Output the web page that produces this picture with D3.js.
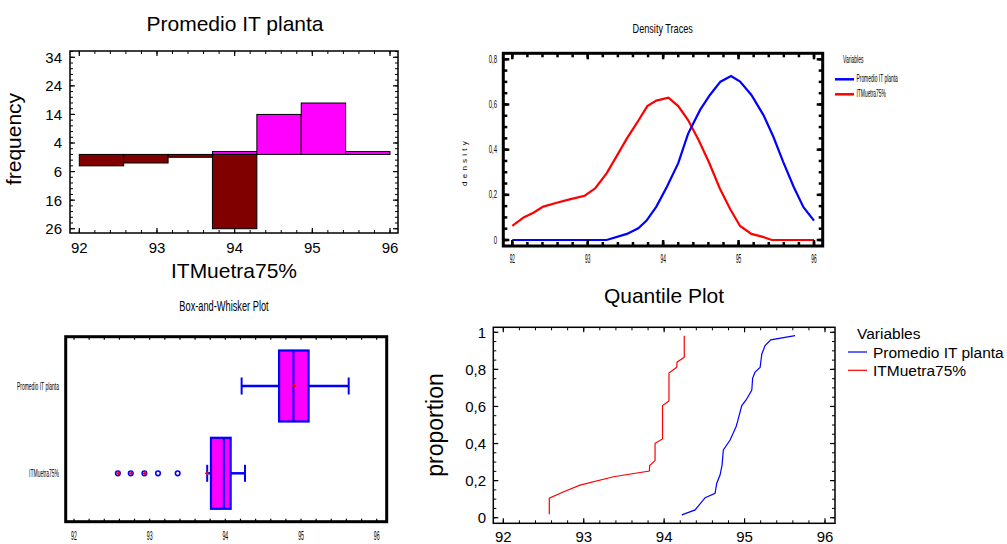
<!DOCTYPE html>
<html>
<head>
<meta charset="utf-8">
<script src="https://cdn.jsdelivr.net/npm/d3@7"></script>
<style>
  body { margin: 0; background: #fff; }
  text { font-family: Arial, "Liberation Sans", sans-serif; fill: #000; }
</style>
</head>
<body>
<svg id="chart" width="1007" height="544"></svg>
<script>
// ---- data ----
var varNames = ['Promedio IT planta', 'ITMuetra75%'];

// histogram (Promedio up, ITMuetra75% down)
var histEdges = [92, 92.571, 93.143, 93.714, 94.286, 94.857, 95.429, 96];
var histPromedio = [0, 0, 0, 1, 14, 18, 1];
var histItm = [4, 3, 1, 26, 0, 0, 0];
var histTicks = [34, 24, 14, 4, -6, -16, -26];

// density traces
var densPromX = [92, 93.25, 93.52, 93.67, 93.78, 93.91, 94.05, 94.2, 94.33, 94.49, 94.62, 94.76, 94.9, 95.02, 95.17, 95.33, 95.46, 95.59, 95.73, 95.86, 96];
var densPromY = [0, 0, 0.027, 0.052, 0.086, 0.148, 0.236, 0.34, 0.47, 0.576, 0.642, 0.701, 0.726, 0.701, 0.642, 0.553, 0.458, 0.347, 0.236, 0.145, 0.086];
var densItmX = [92, 92.15, 92.28, 92.41, 92.59, 92.76, 92.96, 93.1, 93.25, 93.38, 93.52, 93.65, 93.79, 93.91, 94.07, 94.2, 94.33, 94.47, 94.61, 94.75, 94.89, 95.02, 95.17, 95.31, 95.44, 96];
var densItmY = [0.062, 0.1, 0.121, 0.148, 0.165, 0.18, 0.196, 0.229, 0.295, 0.369, 0.45, 0.517, 0.593, 0.617, 0.63, 0.593, 0.531, 0.443, 0.342, 0.229, 0.136, 0.062, 0.027, 0.015, 0, 0];
var densTicks = [0, 0.2, 0.4, 0.6, 0.8];

// box-and-whisker
var boxLow = [94.215, 93.76];
var boxQ1 = [94.71, 93.81];
var boxMed = [94.90, 93.98];
var boxQ3 = [95.10, 94.07];
var boxHigh = [95.63, 94.26];
var boxMean = [94.91, 93.76];
var itmFarOut = [92.58, 92.75, 92.93];
var itmOut = [93.11, 93.37];

// quantile plot
var quantPromX = [94.22, 94.385, 94.51, 94.633, 94.654, 94.695, 94.72, 94.736, 94.82, 94.894, 94.915, 94.965, 95.019, 95.09, 95.1, 95.13, 95.193, 95.214, 95.255, 95.326, 95.628];
var quantPromP = [0.015, 0.042, 0.108, 0.131, 0.186, 0.23, 0.284, 0.365, 0.419, 0.491, 0.522, 0.605, 0.635, 0.689, 0.752, 0.785, 0.81, 0.882, 0.928, 0.959, 0.982];
var quantItmX = [92.572, 92.572, 92.75, 92.954, 93.37, 93.816, 93.82, 93.887, 93.887, 93.98, 93.98, 94.06, 94.06, 94.157, 94.16, 94.25, 94.25];
var quantItmP = [0.018, 0.105, 0.14, 0.176, 0.221, 0.252, 0.281, 0.308, 0.401, 0.425, 0.605, 0.63, 0.78, 0.812, 0.839, 0.866, 0.982];
var quantTicks = [0, 0.2, 0.4, 0.6, 0.8, 1];

var xTicks = [92, 93, 94, 95, 96];
var BLUE = '#0000ff', RED = '#ff0000', MAG = '#ff00ff', DARKRED = '#800000';

var svg = d3.select('#chart');

function steps(a, b, s) {
  return d3.range(Math.round((b - a) / s) + 1).map(function(i) { return +(a + i * s).toFixed(4); });
}
// inward tick marks along one side of a frame
function tickMarks(g, vals, scale, axis, at, len, w) {
  g.append('g').selectAll('line').data(vals).enter().append('line')
    .attr('x1', function(d) { return axis == 'x' ? scale(d) : at; })
    .attr('x2', function(d) { return axis == 'x' ? scale(d) : at + len; })
    .attr('y1', function(d) { return axis == 'x' ? at : scale(d); })
    .attr('y2', function(d) { return axis == 'x' ? at + len : scale(d); })
    .attr('stroke', '#000').attr('stroke-width', w);
}
function frame(g, f, w) {
  g.append('rect').attr('x', f.l).attr('y', f.t).attr('width', f.r - f.l).attr('height', f.b - f.t)
    .attr('fill', 'none').attr('stroke', '#000').attr('stroke-width', w);
}
// narrow text, like the condensed labels of the original
function squish(g, str, x, y, size, sx, anchor, rot) {
  return g.append('text')
    .attr('transform', 'translate(' + x + ',' + y + ')' + (rot ? ' rotate(' + rot + ')' : '') + ' scale(' + sx + ',1)')
    .attr('text-anchor', anchor || 'start')
    .style('font-size', size + 'px')
    .text(str);
}

// ================= histogram =================
(function() {
  var f = { l: 70, r: 398, t: 51, b: 233 };
  var g = svg.append('g');
  var x = d3.scaleLinear().domain([92, 96]).range([79.3, 390]);
  var y = d3.scaleLinear().domain([-27.5, 36.2]).range([f.b, f.t]);

  var bins = d3.range(histPromedio.length);
  g.selectAll('rect.up').data(bins.filter(function(i) { return histPromedio[i] > 0; })).enter().append('rect')
    .attr('x', function(i) { return x(histEdges[i]); })
    .attr('width', function(i) { return x(histEdges[i + 1]) - x(histEdges[i]); })
    .attr('y', function(i) { return y(histPromedio[i]); })
    .attr('height', function(i) { return y(0) - y(histPromedio[i]); })
    .attr('fill', MAG).attr('stroke', '#000').attr('stroke-width', 1);
  g.selectAll('rect.down').data(bins.filter(function(i) { return histItm[i] > 0; })).enter().append('rect')
    .attr('x', function(i) { return x(histEdges[i]); })
    .attr('width', function(i) { return x(histEdges[i + 1]) - x(histEdges[i]); })
    .attr('y', y(0))
    .attr('height', function(i) { return y(-histItm[i]) - y(0); })
    .attr('fill', DARKRED).attr('stroke', '#000').attr('stroke-width', 1);

  frame(g, f, 1.5);
  var minorX = steps(92, 96, 0.2), minorY = steps(-26, 36, 2);
  tickMarks(g, xTicks, x, 'x', f.b, -5, 1.2);
  tickMarks(g, minorX, x, 'x', f.b, -3, 1);
  tickMarks(g, xTicks, x, 'x', f.t, 5, 1.2);
  tickMarks(g, minorX, x, 'x', f.t, 3, 1);
  tickMarks(g, histTicks, y, 'y', f.l, 5, 1.2);
  tickMarks(g, minorY, y, 'y', f.l, 3, 1);
  tickMarks(g, histTicks, y, 'y', f.r, -5, 1.2);
  tickMarks(g, minorY, y, 'y', f.r, -3, 1);

  g.selectAll('text.xl').data(xTicks).enter().append('text')
    .attr('x', function(d) { return x(d); }).attr('y', 253)
    .attr('text-anchor', 'middle').style('font-size', '15px').text(function(d) { return d; });
  g.selectAll('text.yl').data(histTicks).enter().append('text')
    .attr('x', 62).attr('y', function(d) { return y(d); }).attr('dy', '0.36em')
    .attr('text-anchor', 'end').style('font-size', '15px').text(function(d) { return Math.abs(d); });

  g.append('text').attr('x', 235).attr('y', 31).attr('text-anchor', 'middle')
    .style('font-size', '21px').text(varNames[0]);
  g.append('text').attr('x', 234).attr('y', 278).attr('text-anchor', 'middle')
    .style('font-size', '21px').text(varNames[1]);
  g.append('text').attr('transform', 'translate(21,139) rotate(-90)').attr('text-anchor', 'middle')
    .style('font-size', '21px').text('frequency');
})();

// ================= density traces =================
(function() {
  var f = { l: 503.3, r: 822.7, t: 53.3, b: 246 };
  var g = svg.append('g');
  var x = d3.scaleLinear().domain([92, 96]).range([512.3, 814]);
  var y = d3.scaleLinear().domain([0, 0.8]).range([240, 59.3]);
  var line = d3.line().x(function(d) { return x(d[0]); }).y(function(d) { return y(d[1]); });

  g.append('path').datum(d3.zip(densItmX, densItmY)).attr('d', line)
    .attr('fill', 'none').attr('stroke', RED).attr('stroke-width', 2.2);
  g.append('path').datum(d3.zip(densPromX, densPromY)).attr('d', line)
    .attr('fill', 'none').attr('stroke', BLUE).attr('stroke-width', 2.2);

  frame(g, f, 3);
  var minorX = steps(92, 96, 0.2), minorY = steps(0, 0.8, 0.05);
  tickMarks(g, xTicks, x, 'x', f.b, -6, 2.5);
  tickMarks(g, minorX, x, 'x', f.b, -4, 2.5);
  tickMarks(g, xTicks, x, 'x', f.t, 6, 2.5);
  tickMarks(g, minorX, x, 'x', f.t, 4, 2.5);
  tickMarks(g, densTicks, y, 'y', f.l, 6, 2.5);
  tickMarks(g, minorY, y, 'y', f.l, 4, 2.5);
  tickMarks(g, densTicks, y, 'y', f.r, -6, 2.5);
  tickMarks(g, minorY, y, 'y', f.r, -4, 2.5);

  xTicks.forEach(function(d) { squish(g, d, x(d), 262.5, 12, 0.4, 'middle'); });
  densTicks.forEach(function(d) { squish(g, String(d).replace('.', ','), 497, y(d) + 3.5, 10, 0.6, 'end'); });

  squish(g, 'Density Traces', 662.7, 32.5, 13, 0.7, 'middle');
  g.append('text').attr('transform', 'translate(467,162) rotate(-90)').attr('text-anchor', 'middle')
    .style('font-size', '8px').style('letter-spacing', '3.2px').text('density');

  squish(g, 'Variables', 843, 63, 10, 0.5);
  var leg = [[BLUE, varNames[0]], [RED, varNames[1]]];
  leg.forEach(function(e, i) {
    var ly = 79.3 + i * 15;
    g.append('line').attr('x1', 835).attr('x2', 854).attr('y1', ly).attr('y2', ly)
      .attr('stroke', e[0]).attr('stroke-width', 2.5);
    squish(g, e[1], 856.5, ly + 3, 10, 0.49);
  });
})();

// ================= box-and-whisker =================
(function() {
  var f = { l: 65.7, r: 386.7, t: 336.7, b: 521.7 };
  var g = svg.append('g');
  var x = d3.scaleLinear().domain([92, 96]).range([74, 376.7]);
  var y = d3.scalePoint().domain(varNames).range([386, 473.3]);
  var half = 35.5, cap = 8.5;

  varNames.forEach(function(v, i) {
    var cy = y(v);
    g.append('line').attr('x1', x(boxLow[i])).attr('x2', x(boxQ1[i])).attr('y1', cy).attr('y2', cy)
      .attr('stroke', BLUE).attr('stroke-width', 2.5);
    g.append('line').attr('x1', x(boxQ3[i])).attr('x2', x(boxHigh[i])).attr('y1', cy).attr('y2', cy)
      .attr('stroke', BLUE).attr('stroke-width', 2.5);
    [boxLow[i], boxHigh[i]].forEach(function(w) {
      g.append('line').attr('x1', x(w)).attr('x2', x(w)).attr('y1', cy - cap).attr('y2', cy + cap)
        .attr('stroke', BLUE).attr('stroke-width', 2);
    });
    g.append('rect').attr('x', x(boxQ1[i])).attr('width', x(boxQ3[i]) - x(boxQ1[i]))
      .attr('y', cy - half).attr('height', 2 * half)
      .attr('fill', MAG).attr('stroke', BLUE).attr('stroke-width', 2.2);
    g.append('line').attr('x1', x(boxMed[i])).attr('x2', x(boxMed[i])).attr('y1', cy - half).attr('y2', cy + half)
      .attr('stroke', BLUE).attr('stroke-width', 2);
    g.append('path').attr('d', 'M' + (x(boxMean[i]) - 2) + ',' + cy + 'h4M' + x(boxMean[i]) + ',' + (cy - 2) + 'v4')
      .attr('stroke', RED).attr('stroke-width', 1.5);
  });

  var oy = y(varNames[1]);
  g.selectAll('circle.out').data(itmFarOut.concat(itmOut)).enter().append('circle')
    .attr('cx', function(d) { return x(d); }).attr('cy', oy).attr('r', 2.3)
    .attr('fill', '#fff').attr('stroke', BLUE).attr('stroke-width', 1.6);
  g.selectAll('path.far').data(itmFarOut).enter().append('path')
    .attr('d', function(d) { return 'M' + (x(d) - 1.5) + ',' + oy + 'h4M' + (x(d) + 0.5) + ',' + (oy - 2) + 'v4'; })
    .attr('stroke', RED).attr('stroke-width', 1.6);

  frame(g, f, 3);
  var minorX = steps(92, 96, 0.2);
  tickMarks(g, minorX, x, 'x', f.b, -3, 1.2);
  tickMarks(g, minorX, x, 'x', f.t, 3, 1.2);

  xTicks.forEach(function(d) { squish(g, d, x(d), 540, 13, 0.4, 'middle'); });
  varNames.forEach(function(v) { squish(g, v, 59, y(v) + 3.5, 10, 0.5, 'end'); });
  squish(g, 'Box-and-Whisker Plot', 224, 311, 14, 0.66, 'middle');
})();

// ================= quantile plot =================
(function() {
  var f = { l: 493.3, r: 835, t: 327.3, b: 523.3 };
  var g = svg.append('g');
  var x = d3.scaleLinear().domain([92, 96]).range([503.3, 825]);
  var y = d3.scaleLinear().domain([0, 1]).range([517.7, 332.3]);
  var line = d3.line().x(function(d) { return x(d[0]); }).y(function(d) { return y(d[1]); });

  g.append('path').datum(d3.zip(quantItmX, quantItmP)).attr('d', line)
    .attr('fill', 'none').attr('stroke', RED).attr('stroke-width', 1.2);
  g.append('path').datum(d3.zip(quantPromX, quantPromP)).attr('d', line)
    .attr('fill', 'none').attr('stroke', BLUE).attr('stroke-width', 1.2);

  frame(g, f, 1.5);
  var minorX = steps(92, 96, 0.2), minorY = steps(0, 1, 0.05);
  tickMarks(g, xTicks, x, 'x', f.b, -5, 1.2);
  tickMarks(g, minorX, x, 'x', f.b, -3, 1);
  tickMarks(g, xTicks, x, 'x', f.t, 5, 1.2);
  tickMarks(g, minorX, x, 'x', f.t, 3, 1);
  tickMarks(g, quantTicks, y, 'y', f.l, 5, 1.2);
  tickMarks(g, minorY, y, 'y', f.l, 3, 1);
  tickMarks(g, quantTicks, y, 'y', f.r, -5, 1.2);
  tickMarks(g, minorY, y, 'y', f.r, -3, 1);

  g.selectAll('text.xl').data(xTicks).enter().append('text')
    .attr('x', function(d) { return x(d); }).attr('y', 542)
    .attr('text-anchor', 'middle').style('font-size', '15px').text(function(d) { return d; });
  g.selectAll('text.yl').data(quantTicks).enter().append('text')
    .attr('x', 486).attr('y', function(d) { return y(d); }).attr('dy', '0.36em')
    .attr('text-anchor', 'end').style('font-size', '15px').text(function(d) { return String(d).replace('.', ','); });

  g.append('text').attr('x', 664).attr('y', 303).attr('text-anchor', 'middle')
    .style('font-size', '21px').text('Quantile Plot');
  g.append('text').attr('transform', 'translate(443,425) rotate(-90)').attr('text-anchor', 'middle')
    .style('font-size', '23px').text('proportion');

  g.append('text').attr('x', 857).attr('y', 338.5).style('font-size', '15.5px').text('Variables');
  var leg = [[BLUE, varNames[0]], [RED, varNames[1]]];
  leg.forEach(function(e, i) {
    var ly = 352 + i * 18.3;
    g.append('line').attr('x1', 848).attr('x2', 867).attr('y1', ly).attr('y2', ly)
      .attr('stroke', e[0]).attr('stroke-width', 1.2);
    g.append('text').attr('x', 873).attr('y', ly + 5.5).style('font-size', '15.5px').text(e[1]);
  });
})();
</script>
</body>
</html>
